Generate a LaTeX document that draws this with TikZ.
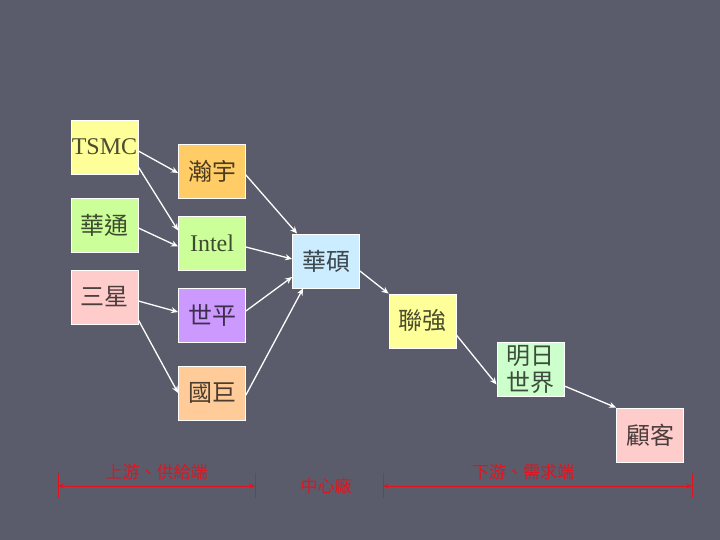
\documentclass[tikz,border=0pt]{standalone}
\usepackage{fontspec}
\setmainfont{Liberation Serif}
\newfontfamily\cjk{Noto Sans CJK TC}
\usetikzlibrary{arrows.meta}
\definecolor{bg}{RGB}{90,92,107}
\definecolor{cyel}{RGB}{255,255,153}
\definecolor{cgrn}{RGB}{204,255,153}
\definecolor{cpnk}{RGB}{255,204,204}
\definecolor{corg}{RGB}{255,204,102}
\definecolor{cpur}{RGB}{204,153,255}
\definecolor{cpch}{RGB}{255,204,153}
\definecolor{cblu}{RGB}{204,236,255}
\definecolor{cmnt}{RGB}{204,255,204}
\definecolor{cred}{RGB}{225,20,30}
\tikzset{
  box/.style={draw=white, line width=0.8pt, fill=#1, text=#1!30!black,
    minimum width=67pt, minimum height=54pt, inner sep=0pt,
    font=\fontsize{24}{27}\selectfont\cjk, align=center},
  latinbox/.style={box=#1, font=\fontsize{24}{27}\selectfont},
  flow/.style={draw=white, line width=1.3pt, -{Stealth[length=7pt,width=6pt]}},
  redline/.style={draw=cred, line width=1pt},
  redtext/.style={text=cred, font=\fontsize{17}{19}\selectfont\cjk, inner sep=0pt}
}
\begin{document}
\begin{tikzpicture}[x=1pt,y=-1pt]
\fill[bg] (0,0) rectangle (720,540);
\useasboundingbox (0,0) rectangle (720,540);
% column 1
\node[latinbox=cyel] (tsmc) at (104.5,147) {TSMC};
\node[box=cgrn] (huatong) at (104.5,225) {華通};
\node[box=cpnk] (samsung) at (104.5,297) {三星};
% column 2
\node[box=corg] (hanyu) at (212,171) {瀚宇};
\node[latinbox=cgrn] (intel) at (212,243.5) {Intel};
\node[box=cpur] (shiping) at (212,315) {世平};
\node[box=cpch] (guoju) at (212,393) {國巨};
% rest
\node[box=cblu] (asus) at (326,261) {華碩};
\node[box=cyel] (lianqiang) at (422.5,321) {聯強};
\node[box=cmnt] (mingri) at (530.5,369.5) {明日\\世界};
\node[box=cpnk] (guke) at (650,435) {顧客};
% arrows
\draw[flow] ([yshift=-4pt]tsmc.east) -- ([yshift=-2pt]hanyu.west);
\draw[flow] ([yshift=-20pt]tsmc.east) -- ([yshift=13pt]intel.west);
\draw[flow] ([yshift=-3pt]huatong.east) -- ([yshift=-3pt]intel.west);
\draw[flow] ([yshift=-4pt]samsung.east) -- ([yshift=3pt]shiping.west);
\draw[flow] ([yshift=-23pt]samsung.east) -- (guoju.west);
\draw[flow] ([yshift=-4pt]hanyu.east) -- ([xshift=5pt]asus.north west);
\draw[flow] ([yshift=-3.5pt]intel.east) -- ([yshift=2pt]asus.west);
\draw[flow] ([yshift=4pt]shiping.east) -- ([yshift=-16pt]asus.west);
\draw[flow] ([yshift=-2pt]guoju.east) -- ([xshift=11pt]asus.south west);
\draw[flow] ([yshift=-10pt]asus.east) -- (lianqiang.north west);
\draw[flow] ([yshift=-14pt]lianqiang.east) -- ([yshift=-15pt]mingri.west);
\draw[flow] ([yshift=-16.5pt]mingri.east) -- (guke.north west);
% bottom brackets
\coordinate (ua) at (58,486);
\coordinate (ub) at (255,486);
\coordinate (da) at (383,486);
\coordinate (db) at (692,486);
\foreach \c in {ua,ub,da,db}
  \draw[redline] ([yshift=13pt]\c) -- ([yshift=-12pt]\c);
\draw[redline, {Stealth[length=6pt,width=5pt]}-{Stealth[length=6pt,width=5pt]}] (ua) -- (ub);
\draw[redline, {Stealth[length=6pt,width=5pt]}-{Stealth[length=6pt,width=5pt]}] (da) -- (db);
\node[redtext] (up) at (156.5,472) {上游、供給端};
\node[redtext] (mid) at (326,486) {中心廠};
\node[redtext] (down) at (523,472) {下游、需求端};
\end{tikzpicture}
\end{document}
